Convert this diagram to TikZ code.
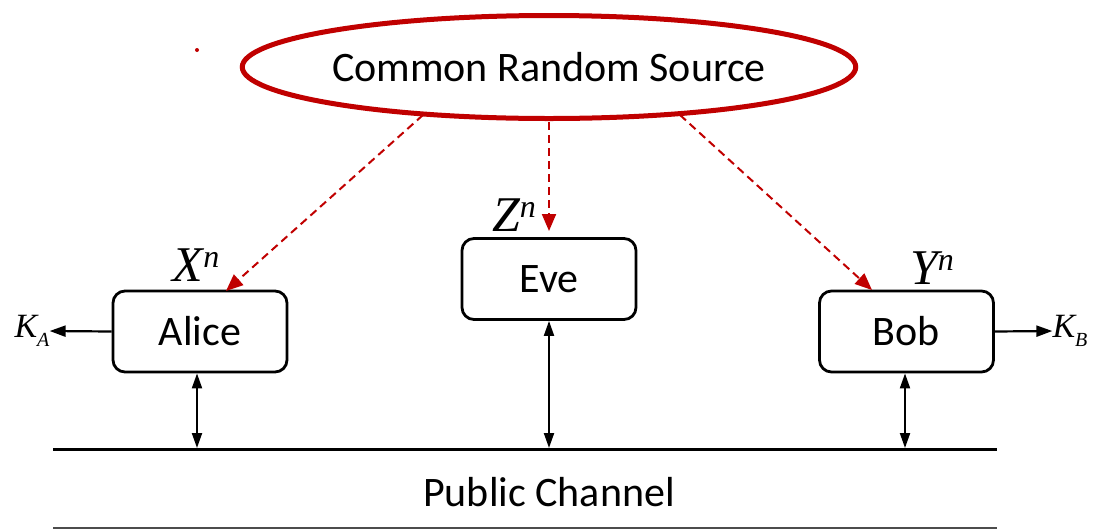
\documentclass[tikz,border=0pt]{standalone}
\usepackage{fontspec}
\setmainfont{Carlito}
\newfontfamily\tnr{Liberation Serif}
\usetikzlibrary{shapes.geometric,arrows.meta}
\definecolor{srcred}{RGB}{192,0,0}
\tikzset{
  label text/.style={font=\fontsize{42}{46}\selectfont},
  party/.style={draw, line width=2.8pt, rounded corners=12pt, minimum width=174pt,
    minimum height=81pt, inner sep=0pt, label text},
  sym/.style={inner sep=0pt, font=\tnr\itshape\fontsize{50}{54}\selectfont},
  keysym/.style={inner sep=0pt, font=\tnr\itshape\fontsize{34}{38}\selectfont},
  feed/.style={srcred, line width=2pt, dash pattern=on 8pt off 5pt,
    -{Triangle[length=17pt,width=14pt]}},
  link/.style={line width=2pt, {Triangle[length=15pt,width=10pt]}-{Triangle[length=15pt,width=10pt]}},
  keyout/.style={line width=2.2pt, -{Triangle[length=16pt,width=11pt]}},
}
\begin{document}
\begin{tikzpicture}[x=1pt,y=-1pt]
  \useasboundingbox (0,0) rectangle (1097,531);

  % common source
  \node (src) [ellipse, draw=srcred, line width=5pt, minimum width=566pt, minimum height=103pt,
    inner sep=0pt, label text] at (549,67) {Common Random Source};
  \fill[srcred] (197,50) circle (2pt);

  % parties
  \node (alice) [party] at (200,331.5) {Alice};
  \node (eve)   [party] at (549,279)   {Eve};
  \node (bob)   [party] at (906.5,331.5) {Bob};

  % observations
  \node (xn) [sym] at (196,265) {X\raisebox{14pt}{\fontsize{32}{34}\selectfont n}};
  \node (zn) [sym] at (514,215) {Z\raisebox{14pt}{\fontsize{32}{34}\selectfont n}};
  \node (yn) [sym] at (932,268) {Y\raisebox{14pt}{\fontsize{32}{34}\selectfont n}};

  % source feeds
  \coordinate (sa) at (423,115);
  \coordinate (se) at (549,122);
  \coordinate (sb) at (680,115);
  \coordinate (ea) at (226,291);
  \coordinate (ee) at (549,231);
  \coordinate (eb) at (872,290);
  \draw[feed] (sa) -- (ea);
  \draw[feed] (se) -- (ee);
  \draw[feed] (sb) -- (eb);

  % keys
  \node (ka) [keysym] at (32,331) {K\raisebox{-9pt}{\fontsize{20}{22}\selectfont A}};
  \node (kb) [keysym] at (1070,331) {K\raisebox{-9pt}{\fontsize{20}{22}\selectfont B}};
  \draw[keyout] (alice.west) -- (ka.east);
  \draw[keyout] (bob.east) -- (kb.west);

  % public channel
  \coordinate (cl) at (53,449);
  \coordinate (cr) at (997,449);
  \coordinate (bl) at (53,528);
  \coordinate (br) at (997,528);
  \draw[line width=3pt] (cl) -- (cr);
  \draw[line width=2.4pt, black!70] (bl) -- (br);
  \node (pub) [inner sep=0pt, label text] at (549,492) {Public Channel};

  \coordinate (pa) at (197,448);
  \coordinate (pe) at (549,448);
  \coordinate (pb) at (905,448);
  \draw[link] (alice.south -| pa) -- (pa);
  \draw[link] (eve.south -| pe) -- (pe);
  \draw[link] (bob.south -| pb) -- (pb);
\end{tikzpicture}
\end{document}
